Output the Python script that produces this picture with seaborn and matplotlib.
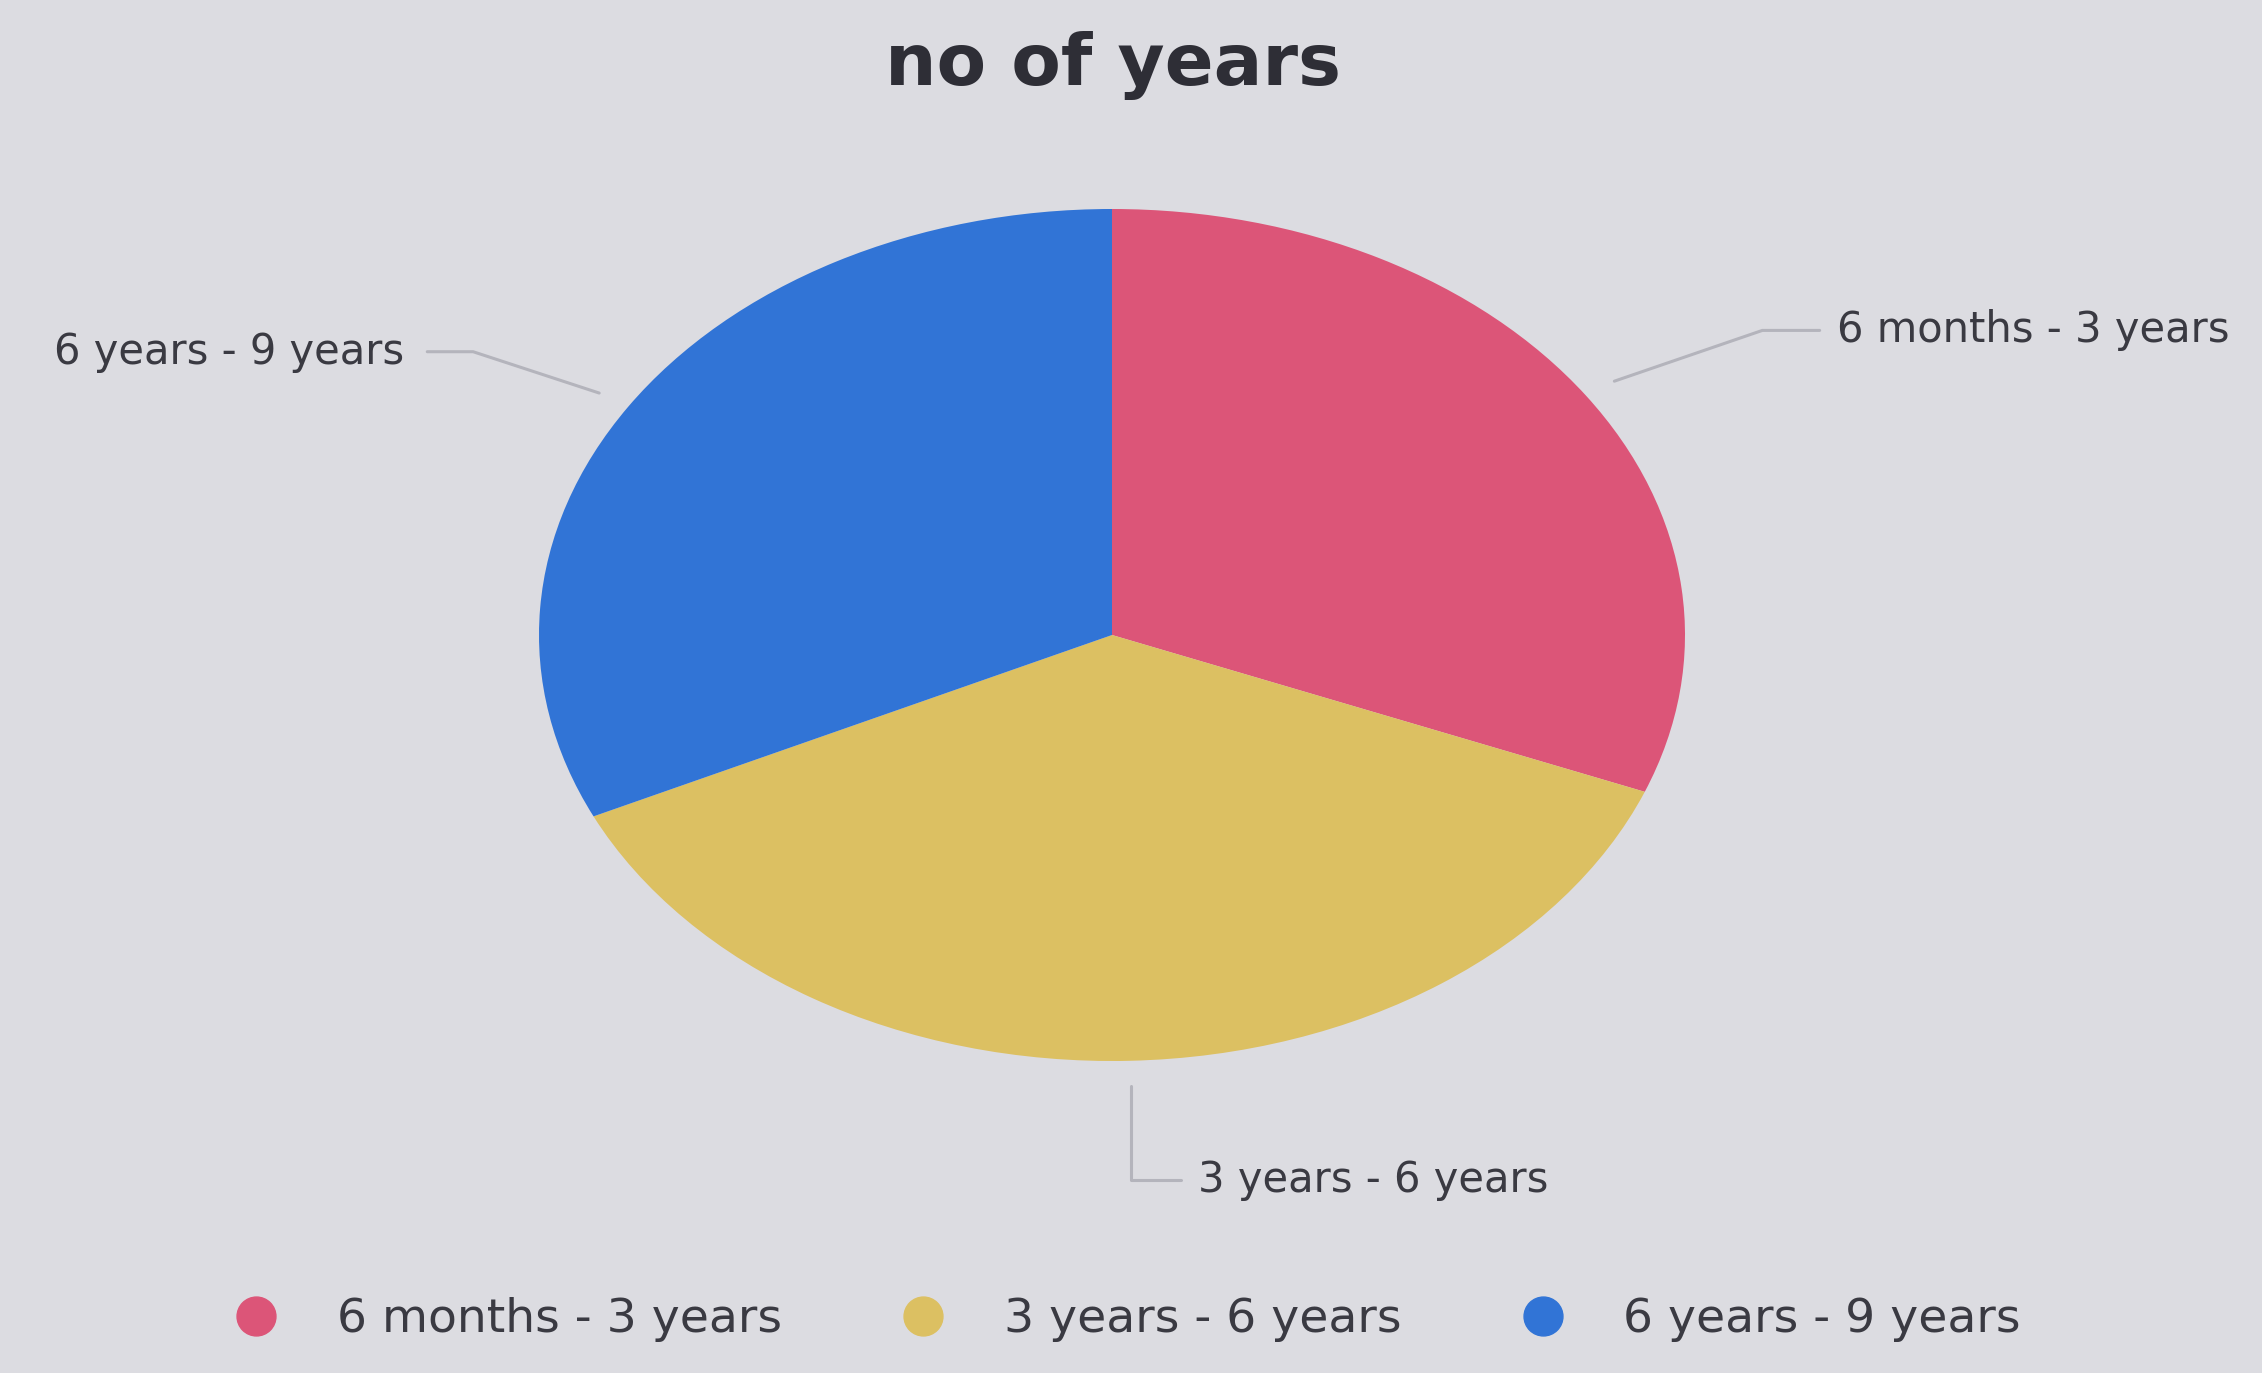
import numpy as np
import matplotlib
matplotlib.use("Agg")
import matplotlib.pyplot as plt
from matplotlib.lines import Line2D
import seaborn as sns

# Data
title = "no of years"
categories = ["6 months - 3 years", "3 years - 6 years", "6 years - 9 years"]
values = [31, 37, 32]
colors = ["#dc5578", "#dcc062", "#3174d6"]

# Label anchor points (in pie radius units) for the outside labels
label_anchor = {
    "6 months - 3 years": (1.265, 0.715, "left"),
    "3 years - 6 years": (0.15, -1.28, "left"),
    "6 years - 9 years": (-1.235, 0.665, "right"),
}

sns.set_theme(style="white")
bg = "#dcdce1"
plt.rcParams["font.family"] = ["DejaVu Sans"]

W, H = 2262, 1373
fig = plt.figure(figsize=(W / 100, H / 100), dpi=100, facecolor=bg)
ax = fig.add_axes([0, 0, 1, 1])
ax.set_facecolor(bg)

wedges, _ = ax.pie(
    values,
    colors=colors,
    startangle=90,
    counterclock=False,
    radius=1.0,
    center=(0, 0),
    wedgeprops=dict(linewidth=0),
)

# Elliptical pie: stretch horizontally via independent axis scales
cx, cy, rx, ry = 1112, 635, 573, 426
ax.set_aspect("auto")
ax.set_xlim(-cx / rx, (W - cx) / rx)
ax.set_ylim((cy - H) / ry, cy / ry)
ax.axis("off")

label_color = "#3a3a42"
line_color = "#b4b4bc"
for w, name in zip(wedges, categories):
    mid = np.deg2rad((w.theta1 + w.theta2) / 2)
    sx, sy = 1.06 * np.cos(mid), 1.06 * np.sin(mid)
    lx, ly, ha = label_anchor[name]
    if ha == "right":
        ex, ey = lx + 0.04, ly
        kx = ex + 0.08
    else:
        ex, ey = lx - 0.03, ly
        kx = ex - 0.10
    if abs(np.cos(mid)) < 0.3:
        kx = sx
    ax.plot([sx, kx, ex], [sy, ey, ey], color=line_color, lw=2.2,
            solid_capstyle="round", clip_on=False)
    ax.text(lx, ly, name, ha=ha, va="center", fontsize=30,
            color=label_color)

fig.text(0.492, 1 - 66 / H, title, ha="center", va="center",
         fontsize=52, fontweight="bold", color="#2e2e36")

handles = [Line2D([], [], marker="o", linestyle="", markersize=28,
                  markerfacecolor=c, markeredgecolor=c) for c in colors]
fig.legend(handles, categories, loc="center",
           bbox_to_anchor=(0.497, 1 - 1320 / H), ncol=3, frameon=False,
           fontsize=34, handlelength=1.2, handletextpad=1.1,
           columnspacing=2.4, labelcolor=label_color)

fig.savefig("out.png", dpi=100, facecolor=bg)
